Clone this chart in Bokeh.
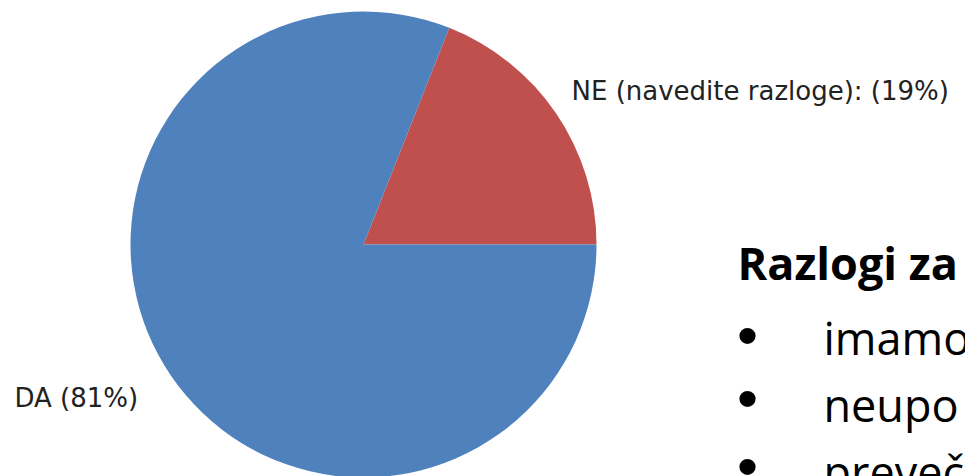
import math
from bokeh.plotting import figure
from bokeh.models import Range1d, ColumnDataSource
from bokeh.core.properties import value
from bokeh.embed import file_html
from bokeh.resources import INLINE

# ---- data ----
categories = ["NE (navedite razloge):", "DA"]
percents = [19, 81]
colors = ["#C0504D", "#4F81BD"]
title_text = "Razlogi za"
bullet_items = ["imamo", "neupo", "preveč"]

W, H = 965, 476
p = figure(width=W, height=H, output_backend="svg", toolbar_location=None,
           x_range=Range1d(0, W), y_range=Range1d(0, H),
           min_border=0, min_border_left=0, min_border_right=0,
           min_border_top=0, min_border_bottom=0)
p.axis.visible = False
p.xgrid.visible = False
p.ygrid.visible = False
p.outline_line_color = None
p.background_fill_color = "white"
p.border_fill_color = "white"

# pie
total = float(sum(percents))
starts, ends = [], []
acc = 0.0
for v in percents:
    starts.append(acc / total * 2 * math.pi)
    acc += v
    ends.append(acc / total * 2 * math.pi)
cx, cy, r = 363, 232, 233
src = ColumnDataSource(dict(start=starts, end=ends, color=colors,
                            x=[cx] * len(percents), y=[cy] * len(percents)))
p.wedge(x="x", y="y", radius=r, start_angle="start", end_angle="end",
        fill_color="color", line_color=None, source=src)

# slice labels
labels = [f"{c} ({v}%)" for c, v in zip(categories, percents)]
lab_x = [571, 14]
lab_y = [386, 79]
p.text(x=lab_x, y=lab_y, text=labels, text_font=value("DejaVu Sans"),
       text_font_size="26px", text_color="#222222",
       text_align="left", text_baseline="alphabetic")

# side text
p.text(x=[737], y=[214], text=[title_text], text_font=value("Open Sans"),
       text_font_style="bold", text_font_size="45px", text_color="black",
       text_align="left", text_baseline="alphabetic")

base_y = [139, 72, 5]
bullet_y = [141, 78, 10]
p.text(x=[747] * 3, y=bullet_y, text=["•"] * 3, text_font=value("Liberation Sans"),
       text_font_size="60px", text_color="black",
       text_align="center", text_baseline="middle")
p.text(x=[823] * 3, y=base_y, text=bullet_items, text_font=value("Open Sans"),
       text_font_size="45px", text_color="black",
       text_align="left", text_baseline="alphabetic")

open("out.html", "w").write(file_html(p, INLINE))
